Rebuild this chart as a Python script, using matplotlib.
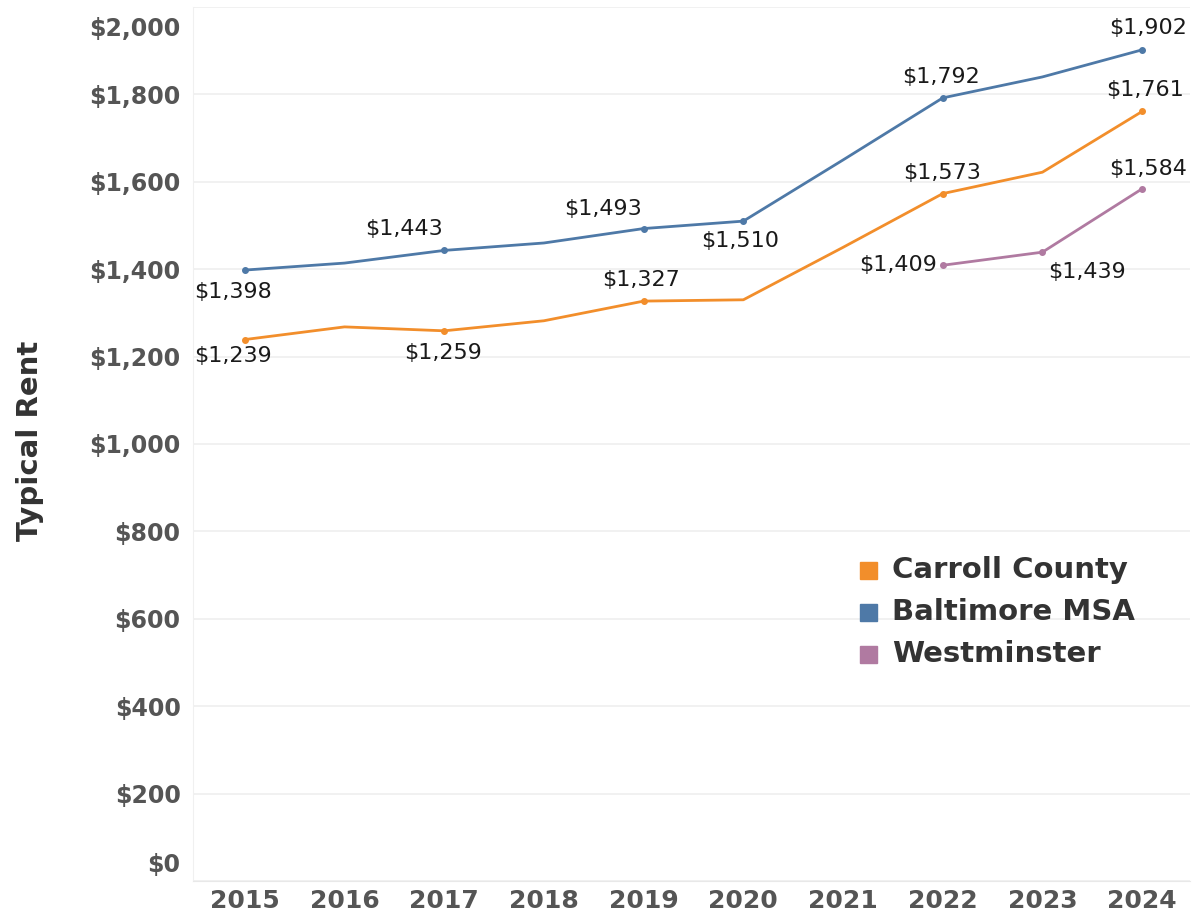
import matplotlib
matplotlib.use("Agg")
import matplotlib.pyplot as plt
from matplotlib.transforms import ScaledTranslation
from matplotlib.patches import Rectangle
import numpy as np

years = ["2015", "2016", "2017", "2018", "2019", "2020", "2021", "2022", "2023", "2024"]
carroll = [1239, 1268, 1259, 1282, 1327, 1330, 1450, 1573, 1622, 1761]
baltimore = [1398, 1414, 1443, 1460, 1493, 1510, 1650, 1792, 1840, 1902]
westminster_years = ["2022", "2023", "2024"]
westminster = [1409, 1439, 1584]

y_ticks = [0, 200, 400, 600, 800, 1000, 1200, 1400, 1600, 1800, 2000]
series_names = ["Carroll County", "Baltimore MSA", "Westminster"]

c_orange = "#F28E2B"
c_blue = "#4E79A7"
c_purple = "#B07AA1"

W, H = 1193, 917
fig = plt.figure(figsize=(W / 100, H / 100), dpi=100)
ax = fig.add_axes([193 / W, 1 - 881 / H, (1190 - 193) / W, (881 - 7) / H])

x = np.arange(len(years))
xw = np.array([years.index(y) for y in westminster_years])

for xs, ys, c in [(x, carroll, c_orange), (x, baltimore, c_blue), (xw, westminster, c_purple)]:
    ax.plot(xs, ys, color=c, lw=2.0, zorder=3)

# markers only at labeled points
lab_c = [0, 2, 4, 7, 9]
lab_b = [0, 2, 4, 5, 7, 9]
lab_w = [0, 1, 2]
ax.plot(x[lab_c], np.array(carroll)[lab_c], "o", color=c_orange, ms=4, zorder=4)
ax.plot(x[lab_b], np.array(baltimore)[lab_b], "o", color=c_blue, ms=4, zorder=4)
ax.plot(xw[lab_w], np.array(westminster)[lab_w], "o", color=c_purple, ms=4, zorder=4)

ax.set_xlim(-0.52, 9.48)
ax.set_ylim(0, 2000)
ax.set_yticks(y_ticks)
ax.set_yticklabels([f"${v:,}" for v in y_ticks])
ax.set_xticks(x)
ax.set_xticklabels(years)

ax.grid(axis="y", color="#efefef", lw=1.2)
ax.set_axisbelow(True)
for s in ["top", "right"]:
    ax.spines[s].set_visible(False)
ax.spines["left"].set_color("#f0f0f0")
ax.spines["bottom"].set_color("#e8e8e8")
ax.tick_params(length=0)
ax.tick_params(axis="y", pad=9, labelsize=17, labelcolor="#555555")
ax.tick_params(axis="x", pad=6, labelsize=18, labelcolor="#555555")
for lbl in ax.get_yticklabels() + ax.get_xticklabels():
    lbl.set_fontweight("bold")
# Tableau pushes the end labels inside the axis range
ylbls = ax.get_yticklabels()
top = ylbls[-1]
top.set_transform(top.get_transform() + ScaledTranslation(0, -0.20, fig.dpi_scale_trans))
bot = ylbls[0]
bot.set_transform(bot.get_transform() + ScaledTranslation(0, 0.18, fig.dpi_scale_trans))

def lab(xv, yv, dx, dy, ha="center"):
    ax.annotate(f"${yv:,}", (xv, yv), xytext=(dx, dy), textcoords="offset pixels",
                ha=ha, va="center", fontsize=16, color="#1a1a1a", zorder=5)

# Baltimore labels
lab(0, baltimore[0], -12, -22)
lab(2, baltimore[2], -40, 21)
lab(4, baltimore[4], -41, 20)
lab(5, baltimore[5], -3, -20)
lab(7, baltimore[7], -2, 21)
lab(9, baltimore[9], 6, 22)
# Carroll labels
lab(0, carroll[0], -12, -16)
lab(2, carroll[2], -1, -22)
lab(4, carroll[4], -3, 21)
lab(7, carroll[7], -1, 21)
lab(9, carroll[9], 3, 21)
# Westminster labels
lab(7, westminster[0], -6, 0, ha="right")
lab(8, westminster[1], 45, -20)
lab(9, westminster[2], 6, 20)

# y-axis title
fig.text(30 / W, 1 - 441 / H, "Typical Rent", rotation=90, ha="center", va="center",
         fontsize=21, fontweight="bold", color="#333333")

# legend
leg_rows = [570, 612, 654]
for name, c, yy in zip(series_names, [c_orange, c_blue, c_purple], leg_rows):
    fig.patches.append(Rectangle((860 / W, 1 - (yy + 8.5) / H), 17 / W, 17 / H,
                                 transform=fig.transFigure, color=c, figure=fig))
    fig.text(892 / W, 1 - yy / H, name, ha="left", va="center", fontsize=21,
             fontweight="bold", color="#333333")

fig.savefig("out.png", dpi=100)
